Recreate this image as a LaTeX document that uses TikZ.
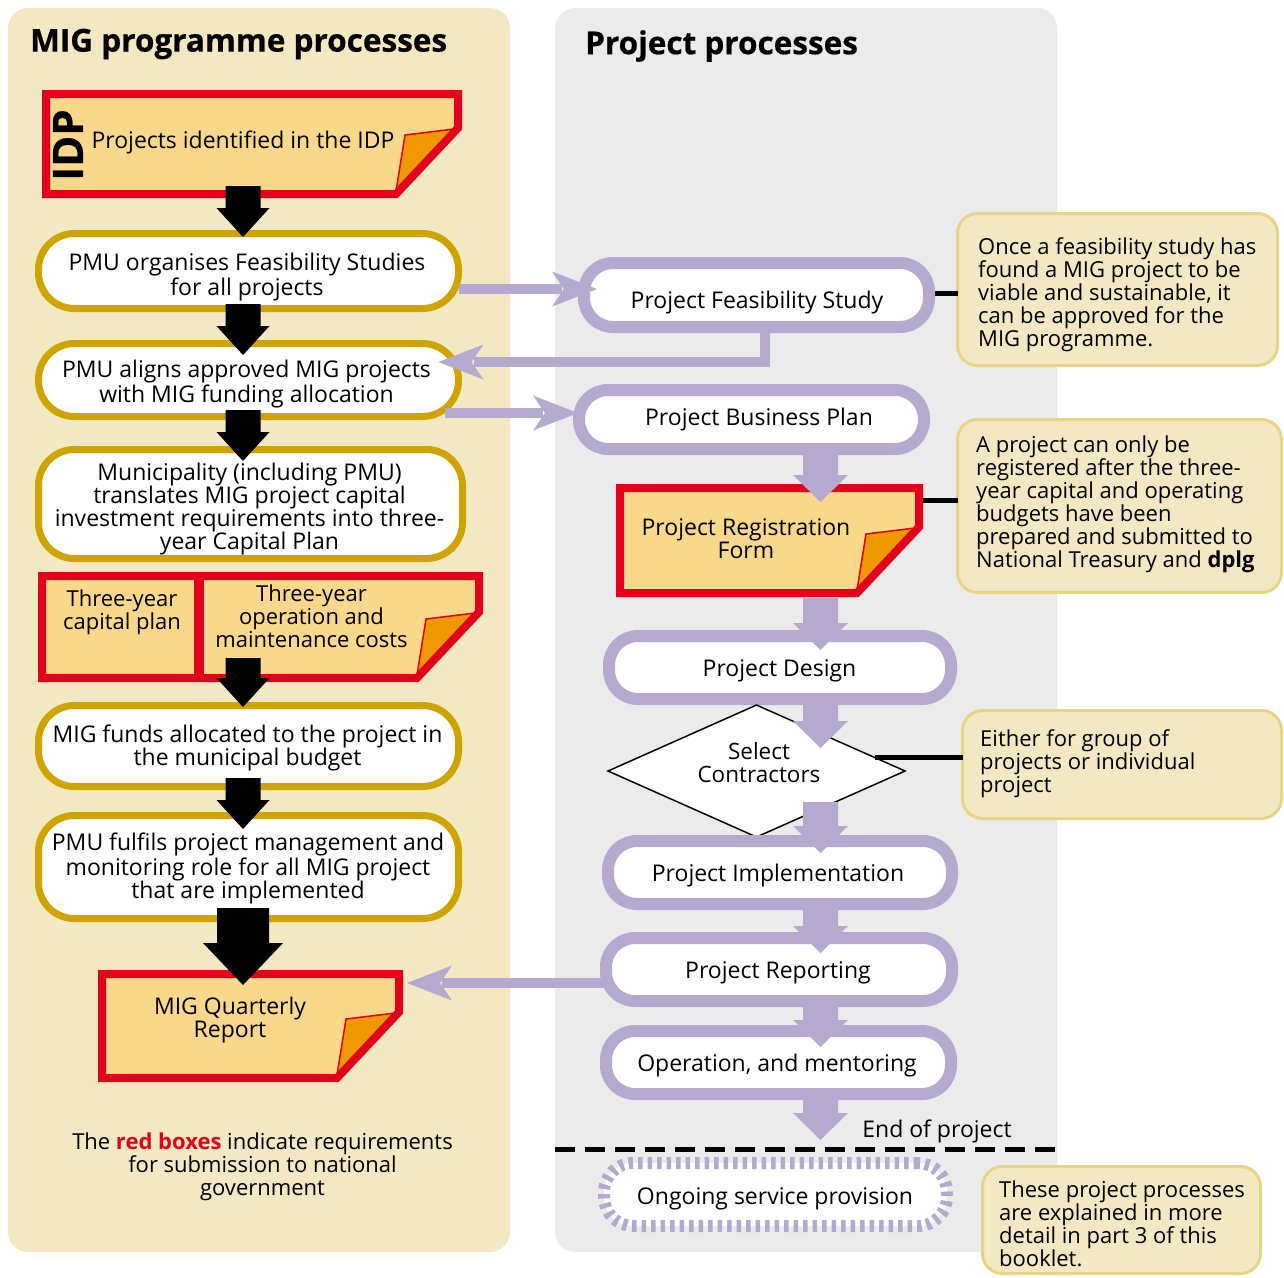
\documentclass[tikz,border=0pt]{standalone}
\usepackage{fontspec}
\setmainfont{Open Sans}
\newfontfamily\heavyfam{Open Sans}[BoldFeatures={FakeBold=0.6}]
\usetikzlibrary{calc,shapes.geometric}

\definecolor{panelbeige}{RGB}{242,232,193}
\definecolor{panelgrey}{RGB}{235,235,235}
\definecolor{gold}{RGB}{208,164,0}
\definecolor{formred}{RGB}{226,0,26}
\definecolor{formfill}{RGB}{249,216,140}
\definecolor{foldorange}{RGB}{240,152,0}
\definecolor{lilac}{RGB}{182,169,207}
\definecolor{noteedge}{RGB}{231,213,135}

% downward block arrow: [colour]{start}{tip}{half shaft}{half head}{head length}
\newcommand\blockarrow[6][black]{%
  \fill[#1] let \p1=(#2), \p2=(#3) in
    (\x1-#4,\y1) -- (\x1+#4,\y1) -- (\x1+#4,\y2+#6) -- (\x1+#5,\y2+#6)
    -- (\x1,\y2) -- (\x1-#5,\y2+#6) -- (\x1-#4,\y2+#6) -- cycle;}

% notched arrow head for the lilac connectors: {tip}{direction}
\newcommand\lilachead[2]{%
  \begin{scope}[shift={(#1)},rotate=#2]
    \fill[lilac] (0,0) -- (-45,-17.5) -- (-33,0) -- (-45,17.5) -- cycle;
  \end{scope}}

% submission form with a dog-eared bottom right corner
\newcommand\formbox[1]{%
  \fill[formfill] (#1.north west) -- (#1.north east) -- ($(#1.south east)+(0,-66)$)
    -- ($(#1.south east)+(-62,0)$) -- (#1.south west) -- cycle;
  \filldraw[fill=foldorange, draw=formred, line width=1.5pt, line join=round]
    ($(#1.south east)+(-53,-59)$) -- ($(#1.south east)+(-4,-65)$) -- ($(#1.south east)+(-62,-3)$) -- cycle;
  \draw[formred, line width=8pt, line join=miter] (#1.north west) -- (#1.north east)
    -- ($(#1.south east)+(0,-66)$) -- ($(#1.south east)+(-62,0)$) -- (#1.south west) -- cycle;}

\tikzset{
  panel/.style={fill=#1, rounded corners=20pt, inner sep=0pt, outer sep=0pt},
  body/.style={font=\fontsize{23}{23}\selectfont},
  small/.style={font=\fontsize{22}{23}\selectfont},
  goldbox/.style={draw=gold, line width=7pt, fill=white, rounded corners=36pt,
    inner sep=0pt, outer sep=0pt},
  pill/.style={draw=lilac, line width=12pt, fill=white, rounded corners=29pt,
    inner sep=0pt, outer sep=0pt},
  ongoingpill/.style={pill, dash pattern=on 4.5pt off 5pt},
  formspot/.style={inner sep=0pt, outer sep=0pt},
  txt/.style={body, align=center, inner sep=0pt, yshift=-2.5pt},
  notetxt/.style={small, align=left, anchor=west, inner sep=0pt, yshift=-2pt},
  note/.style={fill=panelbeige, draw=noteedge, line width=3pt, rounded corners=20pt,
    inner sep=0pt, outer sep=0pt},
  calloutlink/.style={black, line width=5pt},
  lilacline/.style={draw=lilac, line width=9.5pt},
  title/.style={font=\fontsize{31.5}{33}\selectfont\heavyfam\bfseries, anchor=west, inner sep=0pt, yshift=-3pt},
}

\begin{document}
\begin{tikzpicture}[x=1pt, y=-1pt]
\useasboundingbox (0,0) rectangle (1284,1277);

% background panels
\node[panel=panelbeige, minimum width=502pt, minimum height=1244pt] (lp) at (259,630) {};
\node[panel=panelgrey, minimum width=502pt, minimum height=1244pt] (rp) at (806,630) {};

\node[title] (ltitle) at (30,41) {MIG programme processes};
\node[title] (rtitle) at (585,43) {Project processes};

% programme column
\node[formspot, minimum width=412pt, minimum height=100pt] (idp) at (252,144) {};
\formbox{idp}
\node[rotate=90, font=\fontsize{42}{42}\selectfont\heavyfam\bfseries, inner sep=0pt] (idp-l) at (68,145) {IDP};
\node[txt] (idp-t) at (243,140) {Projects identified in the IDP};

\node[goldbox, minimum width=420pt, minimum height=75pt] (org) at (248.5,271) {};
\node[txt] (org-t) at (247,274.5) {PMU organises Feasibility Studies\\for all projects};
\node[goldbox, minimum width=420pt, minimum height=73pt] (aligns) at (248.5,380) {};
\node[txt] (aligns-t) at (246.5,381.5) {PMU aligns approved MIG projects\\with MIG funding allocation};
\node[goldbox, minimum width=424pt, minimum height=109pt] (muni) at (250.5,504) {};
\node[txt] (muni-t) at (249.5,506.5)
  {Municipality (including PMU)\\translates MIG project capital\\investment requirements into three-\\year Capital Plan};

\node[formspot, minimum width=437pt, minimum height=102pt] (three) at (260.5,627) {};
\formbox{three}
\draw[formred, line width=10pt] ($(three.north west)+(157,0)$) -- ($(three.south west)+(157,0)$);
\node[txt, small] (three-a) at (122,610) {Three-year\\capital plan};
\node[txt, small, yshift=2pt] (three-b) at (311.5,616) {Three-year\\operation and\\maintenance costs};

\node[goldbox, minimum width=420pt, minimum height=81pt] (funds) at (248.5,746) {};
\node[txt] (funds-t) at (247.5,745.5) {MIG funds allocated to the project in\\the municipal budget};
\node[goldbox, minimum width=420pt, minimum height=103pt] (fulfils) at (248.5,867) {};
\node[txt] (fulfils-t) at (248,866)
  {PMU fulfils project management and\\monitoring role for all MIG project\\that are implemented};

\node[formspot, minimum width=297pt, minimum height=104pt] (mig) at (250.5,1026) {};
\formbox{mig}
\node[txt] (mig-t) at (230,1018) {MIG Quarterly\\Report};

% black flow arrows
\blockarrow{$(idp.south)+(-9,-8)$}{$(org.north)+(-5.5,3.5)$}{17.5pt}{26.5pt}{29pt}
\blockarrow{$(org.south)+(-5.5,-4.5)$}{$(aligns.north)+(-5.5,11.5)$}{17.5pt}{26.5pt}{29pt}
\blockarrow{$(aligns.south)+(-5.5,-6.5)$}{$(muni.north)+(-7.5,11.5)$}{17.5pt}{26.5pt}{29pt}
\blockarrow{$(three.south)+(-17.5,-20)$}{$(funds.north)+(-5.5,1.5)$}{17.5pt}{26.5pt}{29pt}
\blockarrow{$(funds.south)+(-5.5,-8.5)$}{$(fulfils.north)+(-5.5,13.5)$}{17.5pt}{26.5pt}{29pt}
\blockarrow{$(fulfils.south)+(-5.5,-10.5)$}{$(mig.north)+(-7.5,11)$}{26pt}{40pt}{42pt}

\node[txt, small] (foot) at (262.5,1164)
  {The {\color{formred}\bfseries red boxes} indicate requirements\\for submission to national\\government};

% project column
\node[pill, minimum width=345pt, minimum height=64pt] (feas) at (756.5,295) {};
\node[txt] (feas-t) at (757,300) {Project Feasibility Study};
\node[pill, minimum width=345pt, minimum height=59pt] (bplan) at (751.5,419.5) {};
\node[txt] (bplan-t) at (759,417) {Project Business Plan};

\node[formspot, minimum width=299pt, minimum height=105pt] (reg) at (769.5,540.5) {};
\formbox{reg}
\node[txt, yshift=1.5pt] (reg-t) at (746,538) {Project Registration\\Form};

\node[pill, minimum width=342pt, minimum height=63pt] (design) at (780,667.5) {};
\node[txt] (design-t) at (779.5,668) {Project Design};
\node[diamond, draw=black, line width=1.5pt, fill=white, minimum width=297pt, minimum height=132pt,
  inner sep=0pt, outer sep=0pt] (sel) at (756.5,771) {};
\node[txt, font=\fontsize{22.5}{23}\selectfont, yshift=2.5pt] (sel-t) at (759,762.5) {Select\\Contractors};
\node[pill, minimum width=344pt, minimum height=63pt] (impl) at (780,872.5) {};
\node[txt] (impl-t) at (778,873) {Project Implementation};
\node[pill, minimum width=346pt, minimum height=63pt] (report) at (779,969.5) {};
\node[txt] (report-t) at (778,970) {Project Reporting};
\node[pill, minimum width=345pt, minimum height=63pt] (oper) at (778.5,1062.5) {};
\node[txt] (oper-t) at (777,1063) {Operation, and mentoring};
\node[ongoingpill, minimum width=343pt, minimum height=63pt] (ongoing) at (775.5,1194.5) {};
\node[txt] (ongoing-t) at (775,1196) {Ongoing service provision};

% lilac flow arrows
\coordinate (endmark) at (820.5,1140);
\blockarrow[lilac]{$(bplan.south)+(69,0)$}{$(reg.north)+(51,14)$}{17.5pt}{27.5pt}{27pt}
\blockarrow[lilac]{$(reg.south)+(51,5)$}{$(design.north)+(40.5,14)$}{17.5pt}{27.5pt}{27pt}
\blockarrow[lilac]{$(design.south)+(40.5,0)$}{$(sel.north)+(64,43)$}{17.5pt}{27.5pt}{27pt}
\blockarrow[lilac]{$(sel.south)+(64,-35)$}{$(impl.north)+(40.5,12)$}{17.5pt}{27.5pt}{27pt}
\blockarrow[lilac]{$(impl.south)+(40.5,0)$}{$(report.north)+(41.5,15)$}{17.5pt}{27.5pt}{27pt}
\blockarrow[lilac]{$(report.south)+(41.5,0)$}{$(oper.north)+(42,16)$}{17.5pt}{27.5pt}{27pt}
\blockarrow[lilac]{$(oper.south)+(42,0)$}{endmark}{17.5pt}{27.5pt}{27pt}

% lilac connectors between the columns
\coordinate (a1s) at ($(org.east)+(0,18)$);
\coordinate (a1t) at ($(feas.west)+(13,-6)$);
\draw[lilacline] (a1s) -- ($(a1t)+(-35,0)$);
\lilachead{a1t}{0}

\coordinate (a2s) at ($(feas.south)+(8.5,0)$);
\coordinate (a2t) at ($(aligns.east)+(-20,-18)$);
\draw[lilacline] (a2s) |- ($(a2t)+(35,0)$);
\lilachead{a2t}{180}

\coordinate (a3s) at ($(aligns.east)+(-13.5,33)$);
\coordinate (a3t) at ($(bplan.west)+(-1,-6.5)$);
\draw[lilacline] (a3s) -- ($(a3t)+(-35,0)$);
\lilachead{a3t}{0}

\coordinate (a4s) at ($(report.west)+(0,13.5)$);
\coordinate (a4t) at ($(mig.north east)+(8,9)$);
\draw[lilacline] (a4s) -- ($(a4t)+(35,0)$);
\lilachead{a4t}{180}

% end of project marker
\coordinate (dashL) at (555,1149);
\coordinate (dashR) at (1057,1149);
\draw[black, line width=5pt, dash pattern=on 20pt off 10pt] (dashL) -- (dashR);
\node[txt] (endtext) at (937,1129) {End of project};

% explanatory notes
\node[note, minimum width=320pt, minimum height=152pt] (c1) at (1117.5,289.5) {};
\node[notetxt] (c1-t) at (978,293)
  {Once a feasibility study has\\found a MIG project to be\\viable and sustainable, it\\can be approved for the\\MIG programme.};
\node[note, minimum width=324pt, minimum height=173pt] (c2) at (1119.5,506) {};
\node[notetxt] (c2-t) at (976,502.5)
  {A project can only be\\registered after the three-\\year capital and operating\\budgets have been\\prepared and submitted to\\National Treasury and \textbf{dplg}};
\node[note, minimum width=319pt, minimum height=108pt] (c3) at (1122,764.5) {};
\node[notetxt] (c3-t) at (980,762) {Either for group of\\projects or individual\\project};
\node[note, minimum width=278pt, minimum height=107pt] (c4) at (1121.5,1220) {};
\node[notetxt] (c4-t) at (999,1221.5)
  {These project processes\\are explained in more\\detail in part 3 of this\\booklet.};

\draw[calloutlink] ($(feas.east)+(6,-2)$) -- ($(feas.east -| c1.west)+(0,-2)$);
\coordinate (r2) at ($(reg.north east)+(4,12)$);
\draw[calloutlink] (r2) -- (r2 -| c2.west);
\coordinate (s3) at ($(sel.east)!0.2!(sel.north)$);
\draw[calloutlink] (s3) -- (s3 -| c3.west);
\end{tikzpicture}
\end{document}
